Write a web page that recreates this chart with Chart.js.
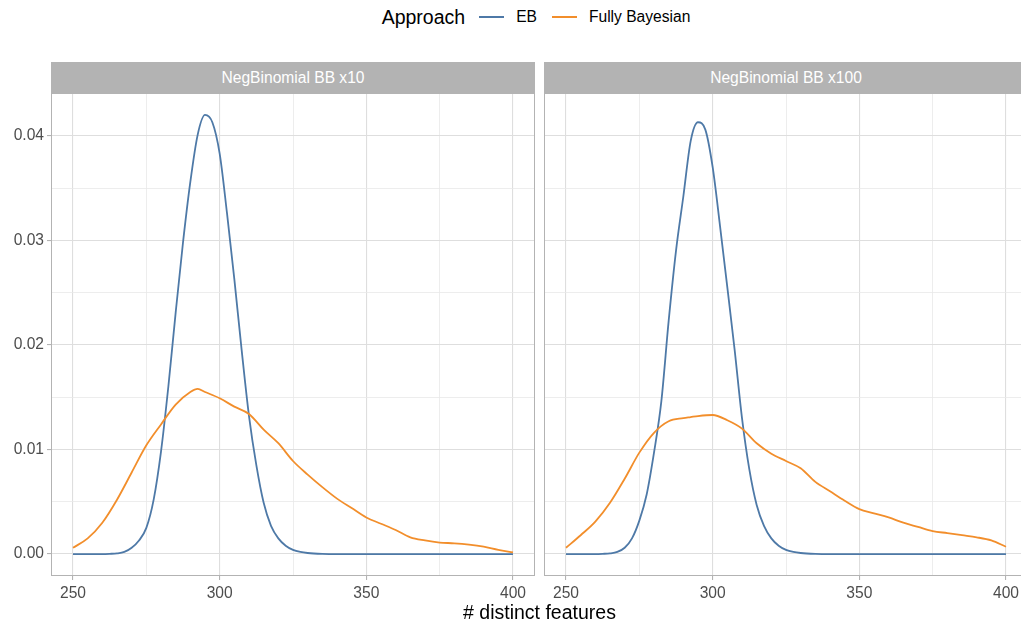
<!DOCTYPE html>
<html lang="en">
<head>
<meta charset="UTF-8" />
<title>Distinct features</title>
<script src="https://cdn.jsdelivr.net/npm/chart.js@4.4.0/dist/chart.umd.min.js"></script>
<style>
  html, body { margin: 0; padding: 0; background: #fff; overflow: hidden; }
  #page { position: relative; width: 1021px; height: 623px; overflow: hidden;
          font-family: "Liberation Sans", Arial, sans-serif; }
  .strip { position: absolute; top: 62px; height: 31px; width: 484px; background: #b3b3b3;
           color: #fff; font-size: 15.6px; line-height: 31px; text-align: center; }
  canvas { position: absolute; top: 93px; }
  #legend { position: absolute; top: 0; left: 4px; width: 1079px; height: 34px;
            display: flex; justify-content: center; align-items: center; color: #000; }
  #legend .ltitle { font-size: 19.5px; margin-right: 14px; }
  #legend .key { display: inline-block; width: 25px; height: 2px; margin-right: 12px; }
  #legend .lab { font-size: 15.6px; margin-right: 15px; }
  #xtitle { position: absolute; top: 600px; left: 0; width: 1079px; height: 24px;
            line-height: 24px; text-align: center; font-size: 19.5px; color: #000; }
</style>
</head>
<body>
<div id="page">
  <div id="legend">
    <span class="ltitle">Approach</span>
    <span class="key" style="background:#4E79A7"></span><span class="lab">EB</span>
    <span class="key" style="background:#F28E2B"></span><span class="lab">Fully Bayesian</span>
  </div>
  <div class="strip" style="left:51px">NegBinomial BB x10</div>
  <div class="strip" style="left:544px">NegBinomial BB x100</div>
  <canvas id="left" width="536" height="530" style="left:0px"></canvas>
  <canvas id="right" width="486" height="530" style="left:543px"></canvas>
  <div id="xtitle"># distinct features</div>
</div>
<script>
// x positions for the EB curves
const xEB = [250, 255, 260, 262.5, 265, 267.5, 270, 272.5, 275, 277.5, 280, 282.5, 285, 287.5,
  290, 292.5, 295, 297.5, 300, 302.5, 305, 307.5, 310, 312.5, 315, 317.5, 320, 322.5, 325,
  327.5, 330, 335, 340, 400];
const eb10 = [0, 0, 0, 0.00002, 0.00006, 0.0002, 0.0006, 0.0013, 0.0025, 0.0052, 0.0098, 0.0160,
  0.0231, 0.0298, 0.0356, 0.0401, 0.0420, 0.0413, 0.0383, 0.0326, 0.0263, 0.0195, 0.0132,
  0.0085, 0.0049, 0.0027, 0.0015, 0.0008, 0.0004, 0.0002, 0.0001, 0.00002, 0, 0];
const eb100 = [0, 0, 0, 0.00002, 0.00006, 0.0002, 0.0006, 0.0015, 0.0032, 0.0057, 0.0097, 0.0146,
  0.0223, 0.0290, 0.0342, 0.0395, 0.0413, 0.0406, 0.0370, 0.0314, 0.0255, 0.0195, 0.0130,
  0.0081, 0.0047, 0.0027, 0.0015, 0.0008, 0.0004, 0.0002, 0.0001, 0.00002, 0, 0];

// x positions for the fully bayesian curves
const xFB = [250, 255, 260, 265, 270, 275, 280, 285, 290, 292.5, 295, 300, 305, 310, 315, 320,
  325, 330, 335, 340, 345, 350, 355, 360, 365, 370, 375, 380, 385, 390, 395, 400];
const fb10 = [0.0006, 0.0015, 0.0030, 0.0052, 0.0078, 0.0104, 0.0124, 0.0143, 0.0155, 0.0158,
  0.0155, 0.0149, 0.0141, 0.0134, 0.0119, 0.0106, 0.0089, 0.0076, 0.0064, 0.0053, 0.0044,
  0.0035, 0.0029, 0.0023, 0.0016, 0.0013, 0.0011, 0.00103, 0.0009, 0.0007, 0.0004, 0.00016];
const fb100 = [0.0006, 0.0018, 0.0031, 0.0049, 0.0072, 0.0097, 0.0116, 0.0127, 0.0130, 0.0131,
  0.0132, 0.0133, 0.0128, 0.0120, 0.0106, 0.0096, 0.0089, 0.0082, 0.0069, 0.0060, 0.0051,
  0.0043, 0.0039, 0.0035, 0.0030, 0.0026, 0.0022, 0.0020, 0.0018, 0.0016, 0.0013, 0.0007];

const xTicks = [250, 275, 300, 325, 350, 375, 400];
const yTicks = [0, 0.005, 0.01, 0.015, 0.02, 0.025, 0.03, 0.035, 0.04];

const blue = "#4E79A7";
const orange = "#F28E2B";
const font = "'Liberation Sans', Arial, sans-serif";

function xMajor(v) { return Math.abs(v / 50 - Math.round(v / 50)) < 1e-9; }
function yMajor(v) { return Math.abs(v * 100 - Math.round(v * 100)) < 1e-6; }

// ggplot style panel border on top of everything
const panelBorder = {
  id: "panelBorder",
  afterDatasetsDraw(chart) {
    const a = chart.chartArea;
    const c = chart.ctx;
    c.save();
    c.strokeStyle = "#b3b3b3";
    c.lineWidth = 1;
    c.strokeRect(Math.round(a.left) + 0.5, Math.round(a.top) + 0.5,
      Math.round(a.right - a.left) - 1, Math.round(a.bottom - a.top) - 1);
    c.restore();
  }
};

function pts(xs, ys) {
  return xs.map((x, i) => ({ x: x, y: ys[i] }));
}

function makePanel(id, ebVals, fbVals, showY) {
  return new Chart(document.getElementById(id), {
    type: "line",
    data: {
      datasets: [
        { label: "EB", data: pts(xEB, ebVals), borderColor: blue, borderWidth: 1.8,
          pointRadius: 0, cubicInterpolationMode: "monotone", order: 1 },
        { label: "Fully Bayesian", data: pts(xFB, fbVals), borderColor: orange, borderWidth: 1.8,
          pointRadius: 0, cubicInterpolationMode: "monotone", order: 0 }
      ]
    },
    options: {
      responsive: false,
      animation: false,
      events: [],
      layout: { autoPadding: false, padding: { left: 0, right: 1, top: 0, bottom: 0 } },
      plugins: { legend: { display: false }, tooltip: { enabled: false } },
      scales: {
        x: {
          type: "linear",
          min: 242.5,
          max: 407.5,
          afterBuildTicks: s => { s.ticks = xTicks.map(v => ({ value: v })); },
          afterFit: s => { s.height = 47; },
          border: { display: false },
          grid: {
            color: ctx => xMajor(ctx.tick.value) ? "#dedede" : "#e8e8e8",
            lineWidth: ctx => xMajor(ctx.tick.value) ? 1.1 : 0.8,
            tickLength: 4,
            tickColor: ctx => xMajor(ctx.tick.value) ? "#b3b3b3" : "rgba(0,0,0,0)"
          },
          ticks: {
            autoSkip: false,
            maxRotation: 0,
            padding: 4,
            color: "#4d4d4d",
            font: { family: font, size: 15.6 },
            callback: v => xMajor(v) ? String(v) : ""
          }
        },
        y: {
          min: -0.0021,
          max: 0.0441,
          afterBuildTicks: s => { s.ticks = yTicks.map(v => ({ value: v })); },
          afterFit: s => {
            s.width = showY ? 51 : 1;
            s.paddingTop = 0;
            s.paddingBottom = 0;
          },
          border: { display: false },
          grid: {
            color: ctx => yMajor(ctx.tick.value) ? "#dedede" : "#e8e8e8",
            lineWidth: ctx => yMajor(ctx.tick.value) ? 1.1 : 0.8,
            drawTicks: showY,
            tickLength: 4,
            tickColor: ctx => yMajor(ctx.tick.value) ? "#b3b3b3" : "rgba(0,0,0,0)"
          },
          ticks: {
            display: showY,
            padding: 3,
            color: "#4d4d4d",
            font: { family: font, size: 15.6 },
            callback: v => yMajor(v) ? v.toFixed(2) : ""
          }
        }
      }
    },
    plugins: [panelBorder]
  });
}

makePanel("left", eb10, fb10, true);
makePanel("right", eb100, fb100, false);
</script>
</body>
</html>
